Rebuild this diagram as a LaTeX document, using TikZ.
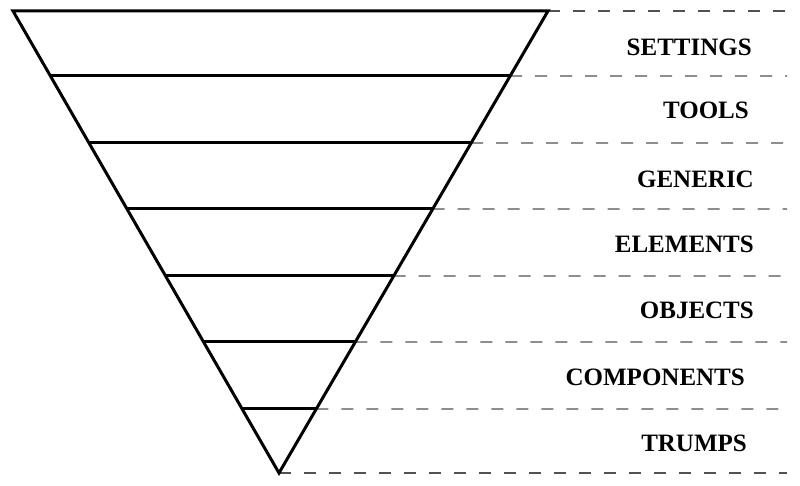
\documentclass[tikz,border=0pt]{standalone}
\usepackage{fontspec}
\setmainfont{Liberation Serif}
\usetikzlibrary{calc}
\begin{document}
\begin{tikzpicture}[x=1pt,y=-1pt,
  edge/.style={line width=3pt,line join=miter,line cap=butt},
  level/.style={line width=3pt},
  guide/.style={line width=1.2pt,draw=black!68,dash pattern=on 12pt off 13pt},
  lbl/.style={font=\fontsize{25}{30}\selectfont\bfseries,anchor=base east,inner sep=0pt}]
\useasboundingbox (0,0) rectangle (800,486);
% corners
\coordinate (tl) at (13,11);
\coordinate (tr) at (548,11);
\coordinate (ap) at (279,473);
% level end points
\foreach \n/\y in {1/76,2/143,3/209,4/276,5/342,6/409}{
  \pgfmathsetmacro{\t}{(\y-11)/462}
  \coordinate (l\n) at ($(tl)!\t!(ap)$);
  \coordinate (r\n) at ($(tr)!\t!(ap)$);
}
% dashed guides
\coordinate (e0) at (787,11);
\foreach \n/\y in {1/76,2/143,3/209,4/276,5/342,6/409}{
  \coordinate (e\n) at (787,\y);
}
\coordinate (e7) at (787,473);
\draw[guide] (tr) -- (e0);
\foreach \n in {1,...,6}{ \draw[guide] (r\n) -- (e\n); }
\draw[guide] (ap) -- (e7);
% triangle
\draw[edge] (tl) -- (tr) -- (ap) -- cycle;
\foreach \n in {1,...,6}{ \draw[level] (l\n) -- (r\n); }
% labels
\node[lbl] (s1) at (752,56) {SETTINGS};
\node[lbl] (s2) at (749,119) {TOOLS};
\node[lbl] (s3) at (754,188) {GENERIC};
\node[lbl] (s4) at (754,253) {ELEMENTS};
\node[lbl] (s5) at (754,318) {OBJECTS};
\node[lbl] (s6) at (745,385) {COMPONENTS};
\node[lbl] (s7) at (747,451) {TRUMPS};
\end{tikzpicture}
\end{document}
